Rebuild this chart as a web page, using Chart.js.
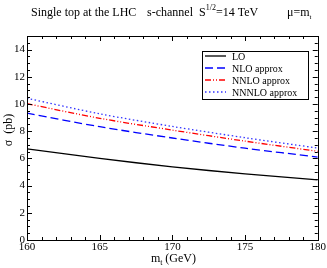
<!DOCTYPE html>
<html><head><meta charset="utf-8">
<script src="https://cdn.jsdelivr.net/npm/chart.js@4/dist/chart.umd.min.js"></script>
<style>html,body{margin:0;padding:0;background:#fff}#wrap{width:327px;height:268px;position:relative}</style>
</head><body><div id="wrap"><canvas id="c" width="327" height="268"></canvas></div>
<script>
const mt = [160, 165, 170, 175, 180];
const LO = [6.70, 6.00, 5.38, 4.86, 4.42];
const NLO = [9.33, 8.33, 7.50, 6.75, 6.10];
const NNLO = [10.02, 8.95, 8.08, 7.27, 6.52];
const NNNLO = [10.42, 9.28, 8.35, 7.52, 6.76];
const xTicks = [160, 165, 170, 175, 180];
const yTicks = [0, 2, 4, 6, 8, 10, 12, 14];
const seriesNames = ['LO', 'NLO approx', 'NNLO approx', 'NNNLO approx'];

const SERIF = '"Liberation Serif","DejaVu Serif",serif';
const pts = arr => mt.map((x, i) => ({x: x, y: arr[i]}));

const deco = {
  id: 'deco',
  afterDraw(chart) {
    const ctx = chart.ctx, a = chart.chartArea;
    const xs = chart.scales.x, ys = chart.scales.y;
    ctx.save();
    ctx.strokeStyle = '#000'; ctx.lineWidth = 1;
    ctx.strokeRect(Math.round(a.left) + 0.5, Math.round(a.top) + 0.5, Math.round(a.right - a.left), Math.round(a.bottom - a.top));
    ctx.beginPath();
    for (let v = 160; v <= 180; v += 1) {
      const p = Math.round(xs.getPixelForValue(v)) + 0.5;
      const L = (v % 5 === 0) ? 5 : 3;
      ctx.moveTo(p, a.bottom); ctx.lineTo(p, a.bottom - L);
      ctx.moveTo(p, a.top); ctx.lineTo(p, a.top + L);
    }
    for (let v = 0; v <= 15; v += 0.5) {
      const p = Math.round(ys.getPixelForValue(v)) + 0.5;
      const L = (v % 2 === 0) ? 5 : 3;
      ctx.moveTo(a.left, p); ctx.lineTo(a.left + L, p);
      ctx.moveTo(a.right, p); ctx.lineTo(a.right - L, p);
    }
    ctx.stroke();

    // title
    ctx.fillStyle = '#000';
    ctx.textBaseline = 'alphabetic';
    ctx.font = '12px ' + SERIF;
    ctx.fillText('Single top at the LHC', 31, 16);
    ctx.fillText('s-channel', 147, 16);
    ctx.fillText('S', 199, 16);
    let w = ctx.measureText('S').width;
    ctx.font = '8px ' + SERIF;
    ctx.fillText('1/2', 199 + w, 10);
    let w2 = ctx.measureText('1/2').width;
    ctx.font = '12px ' + SERIF;
    ctx.fillText('=14 TeV', 199 + w + w2, 16);
    ctx.fillText('\u03bc=m', 287, 16);
    let w3 = ctx.measureText('\u03bc=m').width;
    ctx.font = '7px ' + SERIF;
    ctx.fillText('t', 287 + w3, 19);

    // x title
    ctx.font = '12px ' + SERIF;
    ctx.fillText('m', 151, 262);
    let wm = ctx.measureText('m').width;
    ctx.font = '8px ' + SERIF;
    ctx.fillText('t', 151 + wm, 265);
    ctx.font = '12px ' + SERIF;
    ctx.fillText(' (GeV)', 151 + wm + 2, 262);

    // y title
    ctx.save();
    ctx.translate(12, 130);
    ctx.rotate(-Math.PI / 2);
    ctx.textAlign = 'center';
    ctx.font = '12px ' + SERIF;
    ctx.fillText('\u03c3  (pb)', 0, 0);
    ctx.restore();

    // legend
    const lx = 202.5, ly = 51.5, lw = 106, lh = 48;
    ctx.fillStyle = '#fff';
    ctx.fillRect(lx, ly, lw, lh);
    ctx.strokeStyle = '#000'; ctx.lineWidth = 1;
    ctx.strokeRect(lx, ly, lw, lh);
    const rows = [56, 68, 80, 92];
    chart.data.datasets.forEach((ds, i) => {
      ctx.save();
      ctx.strokeStyle = ds.borderColor; ctx.lineWidth = ds.borderWidth;
      ctx.setLineDash(ds.borderDash || []);
      ctx.beginPath(); ctx.moveTo(205, rows[i]); ctx.lineTo(226, rows[i]); ctx.stroke();
      ctx.restore();
      ctx.fillStyle = '#000';
      ctx.font = '10px ' + SERIF;
      ctx.textBaseline = 'middle';
      ctx.fillText(ds.label, 232, rows[i] + 1);
    });
    ctx.restore();
  }
};

new Chart(document.getElementById('c'), {
  type: 'line',
  data: {
    datasets: [
      {label: seriesNames[0], data: pts(LO), borderColor: '#000000', borderWidth: 1.3, borderDash: []},
      {label: seriesNames[1], data: pts(NLO), borderColor: '#0000ff', borderWidth: 1.3, borderDash: [8, 4]},
      {label: seriesNames[2], data: pts(NNLO), borderColor: '#ff0000', borderWidth: 1.3, borderDash: [6, 2, 1, 2, 1, 2]},
      {label: seriesNames[3], data: pts(NNNLO), borderColor: '#3333ff', borderWidth: 1.3, borderDash: [1.5, 2.5]}
    ]
  },
  options: {
    responsive: false, animation: false,
    layout: {padding: {top: 36, right: 9, left: 0, bottom: 0}},
    elements: {point: {radius: 0}, line: {tension: 0.3, fill: false}},
    plugins: {legend: {display: false}, title: {display: false}, tooltip: {enabled: false}},
    scales: {
      x: {
        type: 'linear', min: 160, max: 180,
        grid: {display: false, drawTicks: false}, border: {display: false},
        afterBuildTicks: s => { s.ticks = xTicks.map(v => ({value: v})); },
        afterFit: s => { s.height = 28; },
        ticks: {color: '#000', font: {family: SERIF, size: 11}, padding: 1, maxRotation: 0, autoSkip: false}
      },
      y: {
        type: 'linear', min: 0, max: 15,
        grid: {display: false, drawTicks: false}, border: {display: false},
        afterBuildTicks: s => { s.ticks = yTicks.map(v => ({value: v})); },
        afterFit: s => { s.width = 27; },
        ticks: {color: '#000', font: {family: SERIF, size: 11}, padding: 2}
      }
    }
  },
  plugins: [deco]
});
</script></body></html>
